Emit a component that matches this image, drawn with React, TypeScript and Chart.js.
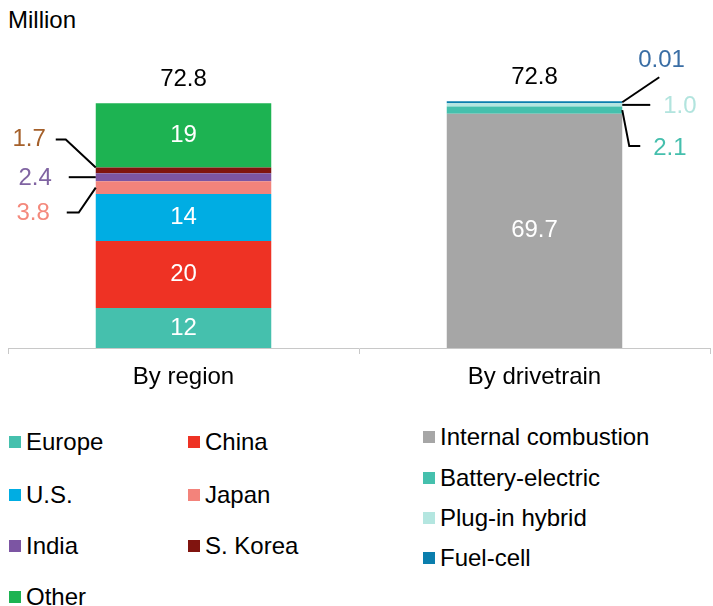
import React, { useEffect, useRef } from "react";
import { Chart, registerables } from "chart.js";
Chart.register(...registerables);

const categories = ["By region", "By drivetrain"];
const regionNames = ["Europe", "China", "U.S.", "Japan", "India", "S. Korea", "Other"];
const regionValues = [11.9, 19.9, 14.0, 3.8, 2.4, 1.7, 19.1];
const regionColors = ["#45c0ad", "#ee3224", "#00ade3", "#f3837b", "#7c55a3", "#80140f", "#1db352"];
const driveNames = ["Internal combustion", "Battery-electric", "Plug-in hybrid", "Fuel-cell"];
const driveValues = [69.7, 2.1, 1.0, 0.01];
const driveColors = ["#a6a6a6", "#45c0ad", "#b4e6e0", "#0a7ead"];
const calloutColors = { japan: "#f4897c", india: "#8064a2", korea: "#a5602a", bev: "#45bfad", phev: "#b2e4de", fc: "#3a6ea5" };

const FONT = '"Liberation Sans", Arial, Helvetica, sans-serif';
const FS = 24;

const labelPlugin = {
  id: "customLabels",
  afterDatasetsDraw(chart: any) {
    const ctx = chart.ctx;
    ctx.save();
    ctx.font = `${FS}px ${FONT}`;
    ctx.textBaseline = "middle";
    const nR = regionValues.length;
    regionValues.forEach((v, i) => {
      if (v < 10) return;
      const el = chart.getDatasetMeta(i).data[0];
      ctx.fillStyle = "#fff";
      ctx.textAlign = "center";
      ctx.fillText(String(Math.round(v)), el.x, (el.y + el.base) / 2);
    });
    driveValues.forEach((v, i) => {
      if (v < 10) return;
      const el = chart.getDatasetMeta(nR + i).data[1];
      ctx.fillStyle = "#fff";
      ctx.textAlign = "center";
      ctx.fillText(v.toFixed(1), el.x, (el.y + el.base) / 2);
    });
    const rTop = chart.getDatasetMeta(nR - 1).data[0];
    const dTop = chart.getDatasetMeta(nR + driveValues.length - 1).data[1];
    const rSum = regionValues.reduce((a, b) => a + b, 0);
    const dSum = driveValues.reduce((a, b) => a + b, 0);
    ctx.fillStyle = "#000";
    ctx.textAlign = "center";
    ctx.fillText(rSum.toFixed(1), rTop.x, rTop.y - 24);
    ctx.fillText(dSum.toFixed(1), dTop.x, dTop.y - 24);

    ctx.strokeStyle = "#000";
    ctx.lineWidth = 2;
    const line = (pts: number[][]) => {
      ctx.beginPath();
      ctx.moveTo(pts[0][0], pts[0][1]);
      for (let k = 1; k < pts.length; k++) ctx.lineTo(pts[k][0], pts[k][1]);
      ctx.stroke();
    };
    const jp = chart.getDatasetMeta(3).data[0];
    const ind = chart.getDatasetMeta(4).data[0];
    const kr = chart.getDatasetMeta(5).data[0];
    const L = jp.x - jp.width / 2;
    ctx.textAlign = "right";
    ctx.fillStyle = calloutColors.korea;
    ctx.fillText(regionValues[5].toFixed(1), L - 50, kr.y - 28);
    line([[L - 40, kr.y - 28], [L - 30, kr.y - 28], [L, kr.y]]);
    const indMid = (ind.y + ind.base) / 2;
    ctx.fillStyle = calloutColors.india;
    ctx.fillText(regionValues[4].toFixed(1), L - 44, indMid + 1);
    line([[L - 27, indMid], [L, indMid]]);
    const jpMid = (jp.y + jp.base) / 2;
    ctx.fillStyle = calloutColors.japan;
    ctx.fillText(regionValues[3].toFixed(1), L - 46, jpMid + 26);
    line([[L - 29, jpMid + 25], [L - 17, jpMid + 25], [L, jpMid]]);

    const bev = chart.getDatasetMeta(nR + 1).data[1];
    const phev = chart.getDatasetMeta(nR + 2).data[1];
    const fc = chart.getDatasetMeta(nR + 3).data[1];
    const R = bev.x + bev.width / 2;
    ctx.textAlign = "left";
    ctx.fillStyle = calloutColors.fc;
    ctx.fillText(driveValues[3].toFixed(2), R + 16, fc.y - 41);
    line([[R, fc.y + 1], [R + 37, fc.y - 24]]);
    const phevMid = (phev.y + phev.base) / 2;
    ctx.fillStyle = calloutColors.phev;
    ctx.fillText(driveValues[2].toFixed(1), R + 41, phevMid + 1);
    line([[R, phevMid], [R + 28, phevMid]]);
    const bevMid = (bev.y + bev.base) / 2;
    ctx.fillStyle = calloutColors.bev;
    ctx.fillText(driveValues[1].toFixed(1), R + 31, bevMid + 38);
    line([[R, bevMid], [R + 7, bevMid + 36], [R + 18, bevMid + 36]]);
    ctx.restore();
  },
};

function LegendItem({ color, text, left, cy }: { color: string; text: string; left: number; cy: number }) {
  return (
    <div
      style={{
        position: "absolute",
        left,
        top: cy - 15,
        height: 30,
        display: "flex",
        alignItems: "center",
        whiteSpace: "nowrap",
        fontFamily: FONT,
        fontSize: FS,
        color: "#000",
      }}
    >
      <span style={{ display: "inline-block", width: 12, height: 12, background: color, marginRight: 5 }} />
      <span>{text}</span>
    </div>
  );
}

export default function App() {
  const ref = useRef<HTMLCanvasElement>(null);
  useEffect(() => {
    if (!ref.current) return;
    const datasets: any[] = [];
    regionValues.forEach((v, i) =>
      datasets.push({ label: regionNames[i], data: [v, null], backgroundColor: regionColors[i], stack: "s" })
    );
    driveValues.forEach((v, i) =>
      datasets.push({
        label: driveNames[i],
        data: [null, v],
        backgroundColor: driveColors[i],
        stack: "s",
        minBarLength: i === driveValues.length - 1 ? 2 : 0,
      })
    );
    const chart = new Chart(ref.current, {
      type: "bar",
      data: { labels: categories, datasets },
      options: {
        responsive: false,
        animation: false,
        devicePixelRatio: 1,
        layout: { padding: { top: 79, left: 8, right: 3, bottom: 0 } },
        datasets: { bar: { categoryPercentage: 1, barPercentage: 0.5, borderWidth: 0 } },
        plugins: { legend: { display: false }, tooltip: { enabled: false }, title: { display: false } },
        scales: {
          x: {
            stacked: true,
            grid: { display: true, offset: true, drawOnChartArea: false, drawTicks: true, tickLength: 6, color: "#c8c8c8", lineWidth: 1 },
            border: { display: true, color: "#c8c8c8", width: 1 },
            ticks: { color: "#000", font: { family: FONT, size: FS }, padding: 9 },
            afterFit: (s: any) => {
              s.height = 52;
            },
          },
          y: { stacked: true, display: false, min: 0, max: 80 },
        },
      } as any,
      plugins: [labelPlugin],
    });
    return () => chart.destroy();
  }, []);

  const regionCols = [9, 188];
  const regionRows = [442, 495, 546, 597];
  const driveRows = [437, 478, 518, 558];

  return (
    <div style={{ position: "absolute", left: 0, top: 0, width: 713, height: 606, background: "#fff", overflow: "hidden" }}>
      <div style={{ position: "absolute", left: 8, top: 5, fontFamily: FONT, fontSize: FS, lineHeight: "30px", color: "#000" }}>Million</div>
      <canvas ref={ref} width={713} height={400} style={{ position: "absolute", left: 0, top: 0 }} />
      {regionNames.map((n, i) => (
        <LegendItem key={n} color={regionColors[i]} text={n} left={regionCols[i % 2]} cy={regionRows[Math.floor(i / 2)]} />
      ))}
      {driveNames.map((n, i) => (
        <LegendItem key={n} color={driveColors[i]} text={n} left={423} cy={driveRows[i]} />
      ))}
    </div>
  );
}
